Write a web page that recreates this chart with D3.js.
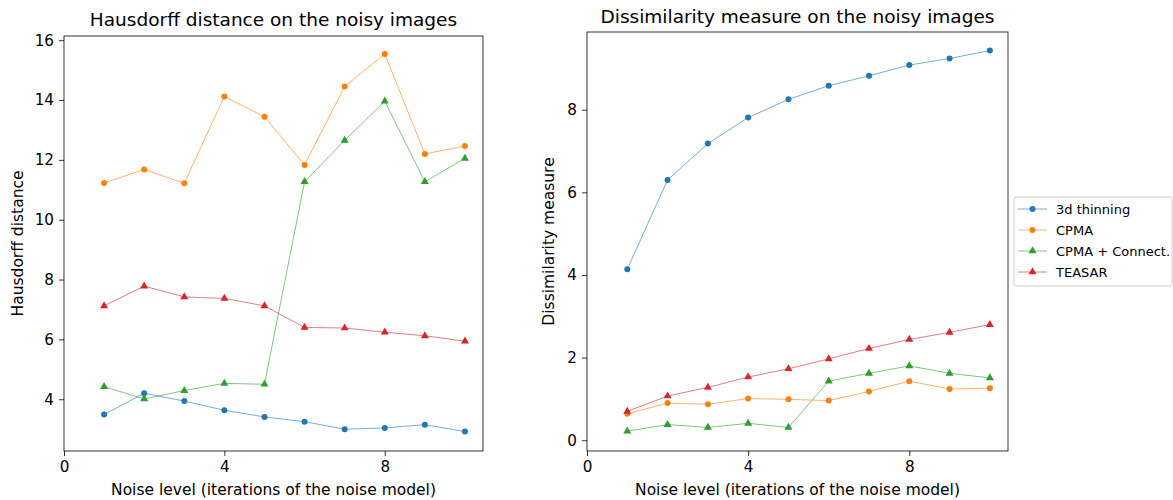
<!DOCTYPE html>
<html>
<head>
<meta charset="utf-8">
<script src="https://cdn.jsdelivr.net/npm/d3@7"></script>
<style>
  body { margin: 0; background: #fff; }
  text { font-family: "DejaVu Sans", sans-serif; fill: #000; }
</style>
</head>
<body>
<svg id="chart" width="1173" height="500"></svg>
<script>
// noise levels (x)
var noise = [1, 2, 3, 4, 5, 6, 7, 8, 9, 10];

// series names
var methods = ["3d thinning", "CPMA", "CPMA + Connect.", "TEASAR"];
var colors = ["#1f77b4", "#ff7f0e", "#2ca02c", "#d62728"];
var shapes = ["circle", "circle", "triangle", "triangle"];

// Hausdorff distance
var haus_thinning = [3.49, 4.20, 3.94, 3.63, 3.41, 3.25, 3.00, 3.04, 3.15, 2.92];
var haus_cpma     = [11.23, 11.68, 11.22, 14.12, 13.44, 11.83, 14.45, 15.54, 12.20, 12.46];
var haus_connect  = [4.42, 4.01, 4.29, 4.53, 4.50, 11.27, 12.65, 13.96, 11.27, 12.05];
var haus_teasar   = [7.12, 7.78, 7.42, 7.37, 7.12, 6.40, 6.38, 6.24, 6.12, 5.94];

// Dissimilarity measure
var diss_thinning = [4.14, 6.30, 7.18, 7.81, 8.25, 8.58, 8.82, 9.08, 9.24, 9.43];
var diss_cpma     = [0.64, 0.90, 0.87, 1.01, 0.99, 0.96, 1.18, 1.43, 1.24, 1.26];
var diss_connect  = [0.22, 0.38, 0.31, 0.41, 0.31, 1.43, 1.62, 1.80, 1.62, 1.51];
var diss_teasar   = [0.70, 1.07, 1.28, 1.53, 1.73, 1.97, 2.22, 2.44, 2.61, 2.80];

var x_ticks = [0, 4, 8];
var haus_ticks = [4, 6, 8, 10, 12, 14, 16];
var diss_ticks = [0, 2, 4, 6, 8];

var svg = d3.select("#chart");

function drawPanel(opts){
    var g = svg.append("g").attr("transform", "translate(" + opts.left + "," + opts.top + ")");
    var width = opts.width, height = opts.height;

    var x = d3.scaleLinear().domain([0, 10.45]).range([0, width]);
    var y = d3.scaleLinear().domain(opts.ydomain).range([height, 0]);

    var line = d3.line()
        .x(function(d, i) { return x(noise[i]); })
        .y(function(d) { return y(d); });

    opts.series.forEach(function(s, k){
        g.append("path")
            .datum(s)
            .attr("d", line)
            .attr("fill", "none")
            .attr("stroke", colors[k])
            .attr("stroke-opacity", 0.6)
            .attr("stroke-width", 1);
        drawMarkers(g, s.map(function(v, i){ return [x(noise[i]), y(v)]; }), k);
    });

    // frame
    g.append("rect")
        .attr("width", width).attr("height", height)
        .attr("fill", "none").attr("stroke", "#000").attr("stroke-width", 0.8);

    var xa = g.append("g").attr("transform", "translate(0," + height + ")")
        .call(d3.axisBottom(x).tickValues(x_ticks).tickSize(5).tickPadding(5).tickFormat(d3.format("d")));
    var ya = g.append("g")
        .call(d3.axisLeft(y).tickValues(opts.yticks).tickSize(5).tickPadding(5).tickFormat(d3.format("d")));
    [xa, ya].forEach(function(a){
        a.select(".domain").remove();
        a.selectAll("line").attr("stroke", "#000").attr("stroke-width", 0.8);
        a.selectAll("text").attr("font-size", "15.2px").attr("font-family", "DejaVu Sans").attr("fill", "#000");
    });

    g.append("text")
        .attr("x", width / 2).attr("y", opts.titleY - opts.top)
        .attr("text-anchor", "middle").attr("font-size", "18.5px")
        .text(opts.title);
    g.append("text")
        .attr("x", width / 2).attr("y", 495 - opts.top)
        .attr("text-anchor", "middle").attr("font-size", "15.5px")
        .text("Noise level (iterations of the noise model)");
    g.append("text")
        .attr("transform", "translate(" + (opts.ylabelX - opts.left) + "," + (height / 2) + ") rotate(-90)")
        .attr("text-anchor", "middle").attr("dy", "0.35em").attr("font-size", "15.5px")
        .text(opts.ylabel);
}

function drawMarkers(g, pts, k){
    pts.forEach(function(p){
        if(shapes[k] == "circle"){
            g.append("circle").attr("cx", p[0]).attr("cy", p[1]).attr("r", 3)
                .attr("fill", colors[k]);
        }else{
            g.append("path")
                .attr("d", d3.symbol().type(d3.symbolTriangle).size(28))
                .attr("transform", "translate(" + p[0] + "," + p[1] + ")")
                .attr("fill", colors[k]);
        }
    });
}

drawPanel({
    left: 64, top: 36, width: 419, height: 415,
    ydomain: [2.27, 16.14], yticks: haus_ticks,
    series: [haus_thinning, haus_cpma, haus_connect, haus_teasar],
    title: "Hausdorff distance on the noisy images", titleY: 26,
    ylabel: "Hausdorff distance", ylabelX: 18
});

drawPanel({
    left: 587, top: 32, width: 421, height: 419,
    ydomain: [-0.26, 9.88], yticks: diss_ticks,
    series: [diss_thinning, diss_cpma, diss_connect, diss_teasar],
    title: "Dissimilarity measure on the noisy images", titleY: 23,
    ylabel: "Dissimilarity measure", ylabelX: 549
});

// legend
var lg = svg.append("g").attr("transform", "translate(1014,197)");
lg.append("rect")
    .attr("width", 158).attr("height", 89).attr("rx", 2)
    .attr("fill", "#fff").attr("stroke", "#ccc").attr("stroke-width", 1);
methods.forEach(function(m, k){
    var yy = 12 + k * 21;
    lg.append("line").attr("x1", 4).attr("x2", 33).attr("y1", yy).attr("y2", yy)
        .attr("stroke", colors[k]).attr("stroke-opacity", 0.6).attr("stroke-width", 1);
    drawMarkers(lg, [[18.5, yy]], k);
    lg.append("text").attr("x", 42).attr("y", yy).attr("dy", "0.35em")
        .attr("font-size", "13px").text(m);
});
</script>
</body>
</html>
